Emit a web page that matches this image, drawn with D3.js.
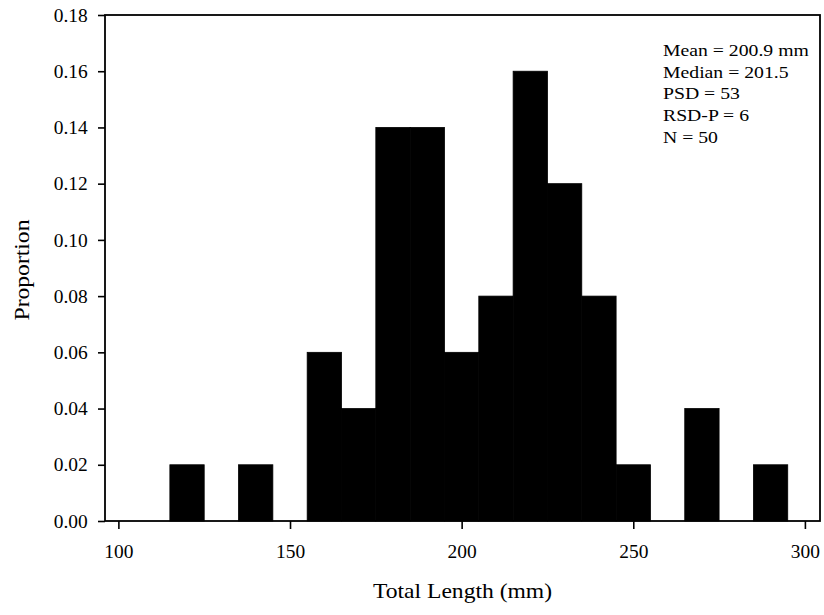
<!DOCTYPE html>
<html lang="en">

<head>
    <meta charset="UTF-8">
    <title>Total Length Histogram</title>
    <script src="https://d3js.org/d3.v7.min.js"></script>
    <style>
        body {
            margin: 0;
            background: #fff;
        }

        text {
            font-family: "Liberation Serif", "Times New Roman", serif;
            fill: #000;
        }
    </style>
</head>

<body>
    <script>
        // Histogram bins (mm) and the proportion in each
        const binStart = [115, 135, 155, 165, 175, 185, 195, 205, 215, 225, 235, 245, 265, 285];
        const binEnd = [125, 145, 165, 175, 185, 195, 205, 215, 225, 235, 245, 255, 275, 295];
        const proportion = [0.02, 0.02, 0.06, 0.04, 0.14, 0.14, 0.06, 0.08, 0.16, 0.12, 0.08, 0.02, 0.04, 0.02];

        const xTicks = [100, 150, 200, 250, 300];
        const yTicks = [0, 0.02, 0.04, 0.06, 0.08, 0.10, 0.12, 0.14, 0.16, 0.18];

        const statLines = ["Mean = 200.9 mm", "Median = 201.5", "PSD = 53", "RSD-P = 6", "N = 50"];

        const width = 824, height = 615;
        const plotLeft = 105, plotRight = 820, plotTop = 15, plotBottom = 521;

        const svg = d3.select("body")
            .append("svg")
            .attr("width", width)
            .attr("height", height);

        const x = d3.scaleLinear().domain([96.1, 304.4]).range([plotLeft, plotRight]);
        const y = d3.scaleLinear().domain([0, 0.18]).range([plotBottom, plotTop]);

        // bars (thin stroke closes the seams between touching bins)
        svg.append("g")
            .selectAll("rect")
            .data(proportion)
            .join("rect")
            .attr("x", (d, i) => x(binStart[i]))
            .attr("width", (d, i) => x(binEnd[i]) - x(binStart[i]))
            .attr("y", d => y(d))
            .attr("height", d => y(0) - y(d))
            .attr("fill", "#000")
            .attr("stroke", "#000")
            .attr("stroke-width", 0.8);

        // y axis
        const yAxis = svg.append("g")
            .attr("transform", `translate(${plotLeft},0)`)
            .call(d3.axisLeft(y).tickValues(yTicks).tickFormat(d3.format(".2f")).tickSize(7).tickPadding(9));

        // x axis
        const xAxis = svg.append("g")
            .attr("transform", `translate(0,${plotBottom})`)
            .call(d3.axisBottom(x).tickValues(xTicks).tickSize(8).tickPadding(16));

        [yAxis, xAxis].forEach(g => {
            g.attr("font-family", null);
            g.select(".domain").remove();
            g.selectAll(".tick line").attr("stroke", "#000").attr("stroke-width", 1.6);
            g.selectAll(".tick text").style("font-size", "18px");
        });
        yAxis.selectAll(".tick text").attr("transform", "scale(1.08,1)").attr("dy", "0.34em");
        xAxis.selectAll(".tick text").attr("transform", "scale(1.08,1)");

        // frame
        svg.append("rect")
            .attr("x", plotLeft)
            .attr("y", plotTop)
            .attr("width", plotRight - plotLeft)
            .attr("height", plotBottom - plotTop)
            .attr("fill", "none")
            .attr("stroke", "#000")
            .attr("stroke-width", 1.8);

        // axis titles
        svg.append("text")
            .attr("transform", `translate(${(plotLeft + plotRight) / 2},598) scale(1.18,1)`)
            .attr("text-anchor", "middle")
            .style("font-size", "20px")
            .text("Total Length (mm)");

        svg.append("text")
            .attr("transform", "translate(29,270) rotate(-90) scale(1.18,1)")
            .attr("text-anchor", "middle")
            .style("font-size", "20px")
            .text("Proportion");

        // summary statistics
        svg.append("g")
            .selectAll("text")
            .data(statLines)
            .join("text")
            .attr("transform", (d, i) => `translate(663,${56 + i * 21.7}) scale(1.16,1)`)
            .style("font-size", "17px")
            .text(d => d);
    </script>
</body>

</html>
